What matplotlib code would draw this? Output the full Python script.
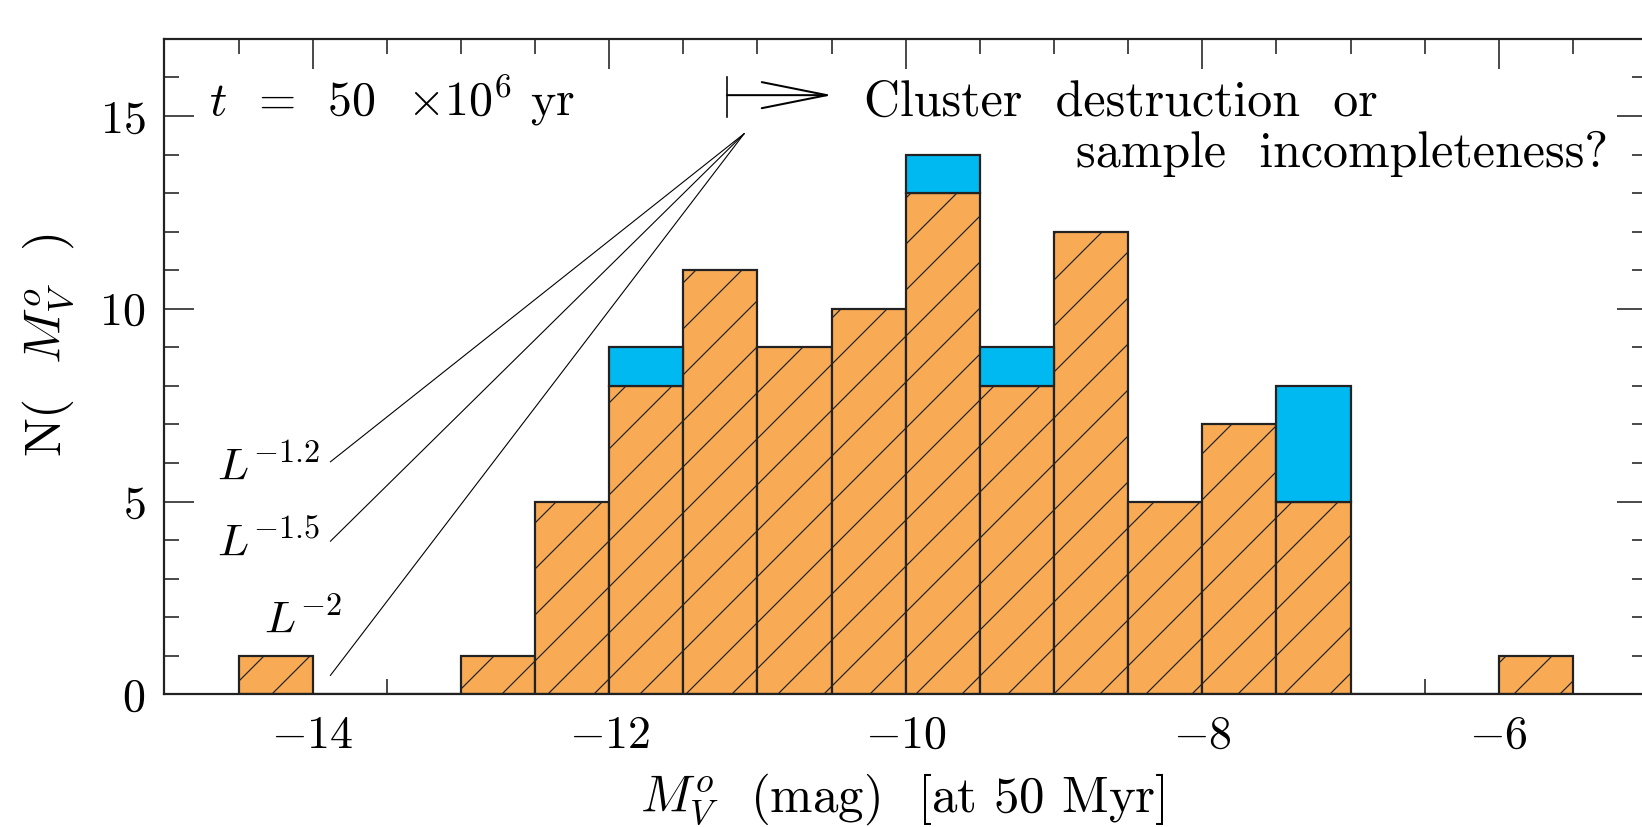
import numpy as np
import matplotlib
matplotlib.use("Agg")
import matplotlib.pyplot as plt
from matplotlib.ticker import MultipleLocator

# histogram data (bin left edges, width 0.5 mag)
bin_left = [-14.5, -14.0, -13.5, -13.0, -12.5, -12.0, -11.5, -11.0, -10.5,
            -10.0, -9.5, -9.0, -8.5, -8.0, -7.5, -7.0, -6.5, -6.0]
n_hatched = [1, 0, 0, 1, 5, 8, 11, 9, 10, 13, 8, 12, 5, 7, 5, 0, 0, 1]
n_total = [1, 0, 0, 1, 5, 9, 11, 9, 10, 14, 9, 12, 5, 7, 8, 0, 0, 1]
bin_width = 0.5

# slope guide lines: common apex + end points
apex = (-11.09, 14.54)
slope_names = [r"$L^{-1.2}$", r"$L^{-1.5}$", r"$L^{-2}$"]
slope_end_x = -13.88
slope_end_y = [6.03, 3.97, 0.49]

# dpi picked so that the hatch spacing matches (hatch unit = 1 inch)
DPI = 138
def pt(px):
    # pixel size -> points
    return px * 72.0 / DPI

plt.rcParams['font.family'] = ['cmr10', 'DejaVu Serif']
plt.rcParams['mathtext.fontset'] = 'cm'
plt.rcParams['axes.formatter.use_mathtext'] = True
plt.rcParams['hatch.linewidth'] = pt(1.2)
plt.rcParams['hatch.color'] = '#222222'

ORANGE = '#F8AA55'
BLUE = '#00B9F0'
EDGE = '#222222'

fig = plt.figure(figsize=(1642 / DPI, 827 / DPI), dpi=DPI)
ax = fig.add_axes([0.1001, 0.1605, 0.903, 0.7925])

extra = np.array(n_total) - np.array(n_hatched)
left = np.array(bin_left)
ax.bar(left, n_hatched, width=bin_width, align='edge', color=ORANGE,
       edgecolor=EDGE, linewidth=pt(2.2), hatch='/', zorder=2)
mask = extra > 0
ax.bar(left[mask], extra[mask], width=bin_width, align='edge',
       bottom=np.array(n_hatched)[mask], color=BLUE, edgecolor=EDGE,
       linewidth=pt(2.2), zorder=2)

ax.set_xlim(-15, -5)
ax.set_ylim(0, 17)

# ticks inside on all sides
ax.xaxis.set_major_locator(MultipleLocator(2))
ax.xaxis.set_minor_locator(MultipleLocator(0.5))
ax.yaxis.set_major_locator(MultipleLocator(5))
ax.yaxis.set_minor_locator(MultipleLocator(1))
ax.tick_params(which='both', direction='in', top=True, right=True,
               labelsize=pt(46), width=pt(1.6), color=EDGE)
ax.tick_params(which='major', length=pt(30))
ax.tick_params(which='minor', length=pt(15))
ax.tick_params(axis='x', pad=pt(21))
ax.tick_params(axis='y', pad=pt(19))
for s in ax.spines.values():
    s.set_linewidth(pt(2.2))
    s.set_color(EDGE)

# slope lines
for yy in slope_end_y:
    ax.plot([apex[0], slope_end_x], [apex[1], yy], color='black',
            lw=pt(1.1), zorder=3)
ax.text(-13.95, 5.56, slope_names[0], fontsize=pt(46), ha='right', va='baseline')
ax.text(-13.95, 3.56, slope_names[1], fontsize=pt(46), ha='right', va='baseline')
ax.text(-13.80, 1.59, slope_names[2], fontsize=pt(46), ha='right', va='baseline')

# arrow
ax.plot([-11.205, -11.205], [14.98, 16.01], color='black', lw=pt(1.6))
ax.annotate('', xy=(-10.497, 15.54), xytext=(-11.205, 15.54),
            arrowprops=dict(arrowstyle='->, head_length=%.2f, head_width=%.2f'
                            % (pt(65) / 20, pt(13) / 20),
                            lw=pt(2.0), color='black', shrinkA=0, shrinkB=0,
                            mutation_scale=20))

ax.text(-14.7, 15.0, r"$t$  =  50  $\times$10$^6$ yr", fontsize=pt(48),
        ha='left', va='baseline')
ax.text(-10.28, 15.0, "Cluster  destruction  or", fontsize=pt(50),
        ha='left', va='baseline')
ax.text(-5.26, 13.67, "sample  incompleteness?", fontsize=pt(50),
        ha='right', va='baseline')

ax.text(-0.079, 0.532, r"N(  $M^o_V$  )", fontsize=pt(52), rotation=90,
        ha='center', va='center', transform=ax.transAxes)
ax.text(0.498, -0.16, r"$M^o_V$  (mag)  [at 50 Myr]", fontsize=pt(51),
        ha='center', va='center', transform=ax.transAxes)

fig.savefig("out.png", dpi=DPI)
